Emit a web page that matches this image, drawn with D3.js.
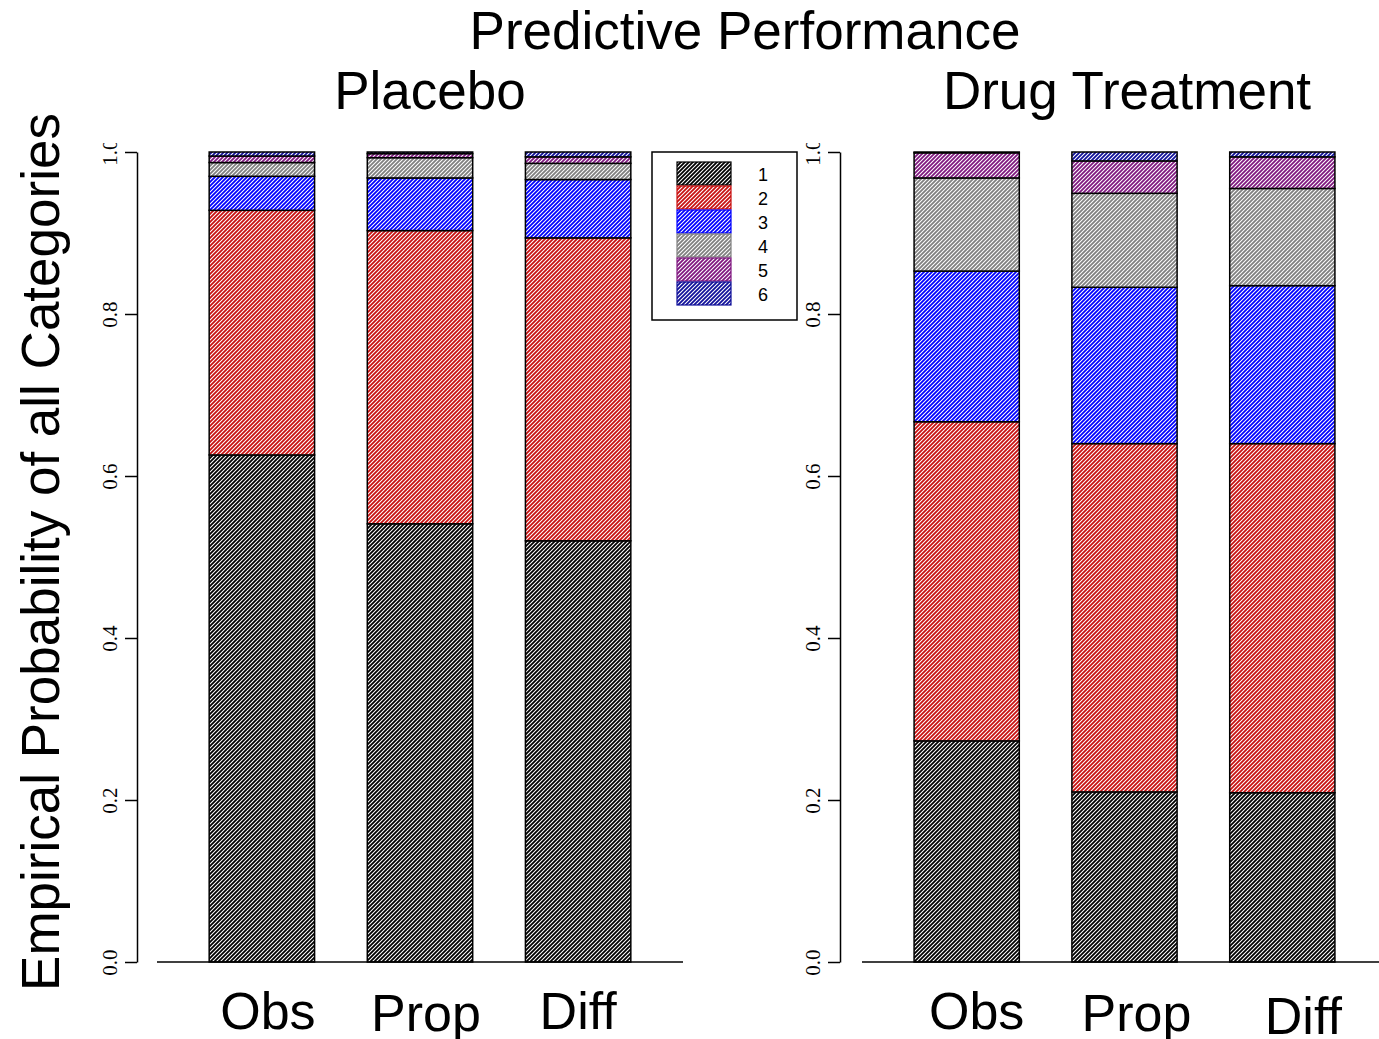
<!DOCTYPE html>
<html>
<head>
<meta charset="utf-8">
<script src="https://cdn.jsdelivr.net/npm/d3@7"></script>
<style>
  body { margin: 0; background: #fff; }
  svg text { font-family: "Liberation Sans", Arial, sans-serif; fill: #000; }
  .ytick text { font-family: "Liberation Serif", "Times New Roman", serif; }
</style>
</head>
<body>
<div id="chart"></div>
<script>
// ---- data ----
const methods = ["Obs", "Prop", "Diff"];
const categories = ["1", "2", "3", "4", "5", "6"];
const yTicks = [0, 0.2, 0.4, 0.6, 0.8, 1.0];

// proportion of each category (1..6), per method
const placeboObs  = [0.626, 0.302, 0.042, 0.017, 0.008, 0.005];
const placeboProp = [0.541, 0.362, 0.065, 0.025, 0.005, 0.002];
const placeboDiff = [0.520, 0.374, 0.072, 0.020, 0.008, 0.006];

const drugObs  = [0.273, 0.394, 0.186, 0.115, 0.031, 0.001];
const drugProp = [0.210, 0.430, 0.193, 0.116, 0.040, 0.011];
const drugDiff = [0.209, 0.431, 0.195, 0.120, 0.039, 0.006];

const catColors = ["#000000", "#c81010", "#0000ff", "#808080", "#801880", "#10109a"];

// ---- layout ----
const W = 1379, H = 1039;

const svg = d3.select("#chart").append("svg")
    .attr("width", W)
    .attr("height", H);

const defs = svg.append("defs");

// diagonal hatching, one pattern per category colour
catColors.forEach((c, i) => {
    const p = defs.append("pattern")
        .attr("id", "hatch" + i)
        .attr("patternUnits", "userSpaceOnUse")
        .attr("width", 4)
        .attr("height", 4);
    p.append("rect").attr("width", 4).attr("height", 4).attr("fill", "#fff");
    p.append("path")
        .attr("d", "M-1,1 l2,-2 M0,4 l4,-4 M3,5 l2,-2")
        .attr("stroke", c)
        .attr("stroke-width", 1.8);
});

// clip used for the y tick labels (top "1.0" is cut off in the original)
defs.append("clipPath").attr("id", "yclip")
    .append("rect").attr("x", 0).attr("y", 143).attr("width", W).attr("height", H);

const y = d3.scaleLinear().domain([0, 1]).range([962, 152]);

const panels = [
    {title: "Placebo", titleX: 430, rows: [placeboObs, placeboProp, placeboDiff],
     range: [157, 683], axisX: 137,
     labelDx: [6, 6, 0], labelY: [1029, 1031, 1029]},
    {title: "Drug Treatment", titleX: 1127, rows: [drugObs, drugProp, drugDiff],
     range: [862, 1387], axisX: 840,
     labelDx: [10, 12, 21], labelY: [1029, 1031, 1034]}
];

svg.append("text")
    .attr("x", 745)
    .attr("y", 49)
    .attr("text-anchor", "middle")
    .style("font-size", "53px")
    .text("Predictive Performance");

svg.append("text")
    .attr("transform", "translate(59,552) rotate(-90)")
    .attr("text-anchor", "middle")
    .style("font-size", "53px")
    .text("Empirical Probability of all Categories");

panels.forEach(panel => {
    const g = svg.append("g");

    const x = d3.scaleBand()
        .domain(methods)
        .range(panel.range)
        .paddingInner(1 / 3)
        .paddingOuter(0.33);

    const table = methods.map((m, i) => {
        const row = {method: m};
        categories.forEach((c, j) => row[c] = panel.rows[i][j]);
        return row;
    });

    const series = d3.stack().keys(categories)(table);

    g.selectAll("g.layer")
        .data(series)
        .join("g")
        .attr("class", "layer")
        .attr("fill", (d, i) => `url(#hatch${i})`)
        .selectAll("rect")
        .data(d => d)
        .join("rect")
        .attr("x", d => x(d.data.method))
        .attr("width", x.bandwidth())
        .attr("y", d => y(d[1]))
        .attr("height", d => y(d[0]) - y(d[1]))
        .attr("stroke", "#000")
        .attr("stroke-width", 1.5);

    // baseline
    g.append("line")
        .attr("x1", panel.range[0])
        .attr("x2", panel.range[1])
        .attr("y1", y(0))
        .attr("y2", y(0))
        .attr("stroke", "#000")
        .attr("stroke-width", 1.5);

    // y axis
    const ya = g.append("g")
        .attr("class", "ytick")
        .attr("clip-path", "url(#yclip)")
        .append("g")
        .attr("transform", `translate(${panel.axisX},0)`)
        .call(d3.axisLeft(y).tickValues(yTicks).tickFormat(d3.format(".1f"))
            .tickSize(12).tickSizeOuter(0));
    ya.attr("font-family", null);
    ya.select(".domain").attr("stroke-width", 1.5);
    ya.selectAll(".tick line").attr("stroke-width", 1.5);
    ya.selectAll(".tick text")
        .attr("x", null)
        .attr("dy", null)
        .attr("transform", "translate(-20,0) rotate(-90)")
        .attr("text-anchor", "middle")
        .style("font-family", "'Liberation Serif', 'Times New Roman', serif")
        .style("font-size", "21px");

    // category labels
    g.selectAll("text.cat")
        .data(methods)
        .join("text")
        .attr("class", "cat")
        .attr("x", (d, i) => x(d) + x.bandwidth() / 2 + panel.labelDx[i])
        .attr("y", (d, i) => panel.labelY[i])
        .attr("text-anchor", "middle")
        .style("font-size", "52px")
        .text(d => d);

    // panel title
    g.append("text")
        .attr("x", panel.titleX)
        .attr("y", 109)
        .attr("text-anchor", "middle")
        .style("font-size", "53px")
        .text(panel.title);
});

// legend
const legend = svg.append("g").attr("transform", "translate(652,152)");
legend.append("rect")
    .attr("width", 145)
    .attr("height", 168)
    .attr("fill", "#fff")
    .attr("stroke", "#000")
    .attr("stroke-width", 1.5);

const item = legend.selectAll("g.item")
    .data(categories)
    .join("g")
    .attr("class", "item")
    .attr("transform", (d, i) => `translate(25,${10 + i * 24})`);

item.append("rect")
    .attr("width", 54)
    .attr("height", 23)
    .attr("fill", (d, i) => `url(#hatch${i})`)
    .attr("stroke", (d, i) => catColors[i])
    .attr("stroke-width", 1.2);

item.append("text")
    .attr("x", 86)
    .attr("y", 13)
    .attr("dy", "0.35em")
    .attr("text-anchor", "middle")
    .style("font-size", "18px")
    .text(d => d);
</script>
</body>
</html>
